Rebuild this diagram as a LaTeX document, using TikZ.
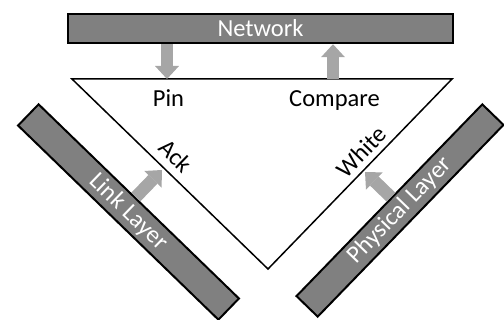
\documentclass[tikz,border=0pt]{standalone}
\usepackage{fontspec}
\setmainfont{Carlito}
\usetikzlibrary{arrows.meta,calc}

\definecolor{bargray}{HTML}{808080}
\definecolor{flowgray}{HTML}{A6A6A6}

\tikzset{
  layer/.style={shape=rectangle,draw,line width=2pt,fill=bargray,text=white,
    inner sep=0pt,minimum height=29.5pt,font=\fontsize{24.5}{28}\selectfont},
  lbl/.style={font=\fontsize{24.5}{28}\selectfont},
  flow/.style={color=flowgray,line width=12.5pt,
    -{Triangle[length=13pt,width=24pt,line width=0pt]}}
}

\begin{document}
\begin{tikzpicture}[x=1pt,y=-1pt]
\clip (0,0) rectangle (504,320);

% the triangle
\coordinate(tl)  at (72,79);
\coordinate(tr)  at (452,79);
\coordinate(bot) at (268,269);
\draw[line width=1.5pt,line join=miter] (tl) -- (tr) -- (bot) -- cycle;

% the three layers
\node(network)   at (260.5,28.5)[layer,minimum width=385pt]               {Network};
\node(linklayer) at (128.5,212)[layer,minimum width=279pt,rotate=-44.1]   {Link Layer};
\node(physlayer) at (400,210.5)[layer,minimum width=267pt,rotate=45.9]    {Physical Layer};

% labels on the triangle
\node(pin)     at (168.5,106.5)[lbl,anchor=base]  {Pin};
\node(compare) at (334.5,106.5)[lbl,anchor=base]  {Compare};
\node(ack)     at (176,156)[lbl,rotate=-44.1]     {Ack};
\node(white)   at (361,152)[lbl,rotate=45.9]      {White};

% arrow ends
\coordinate(pinto)   at (167,79);
\coordinate(pinfrom) at (network.south -| pinto);
\coordinate(cmpfrom) at (333,79);
\coordinate(cmpto)   at (network.south -| cmpfrom);
\coordinate(ackto)   at (162,170);
\coordinate(ackfrom) at ($(linklayer.north west)!(ackto)!(linklayer.north east)$);
\coordinate(whto)    at (365,172);
\coordinate(whfrom)  at ($(physlayer.north west)!(whto)!(physlayer.north east)$);

\path [flow]
  (pinfrom)  edge  (pinto)
  (cmpfrom)  edge  (cmpto)
  (ackfrom)  edge  (ackto)
  (whfrom)   edge  (whto);

\end{tikzpicture}
\end{document}
